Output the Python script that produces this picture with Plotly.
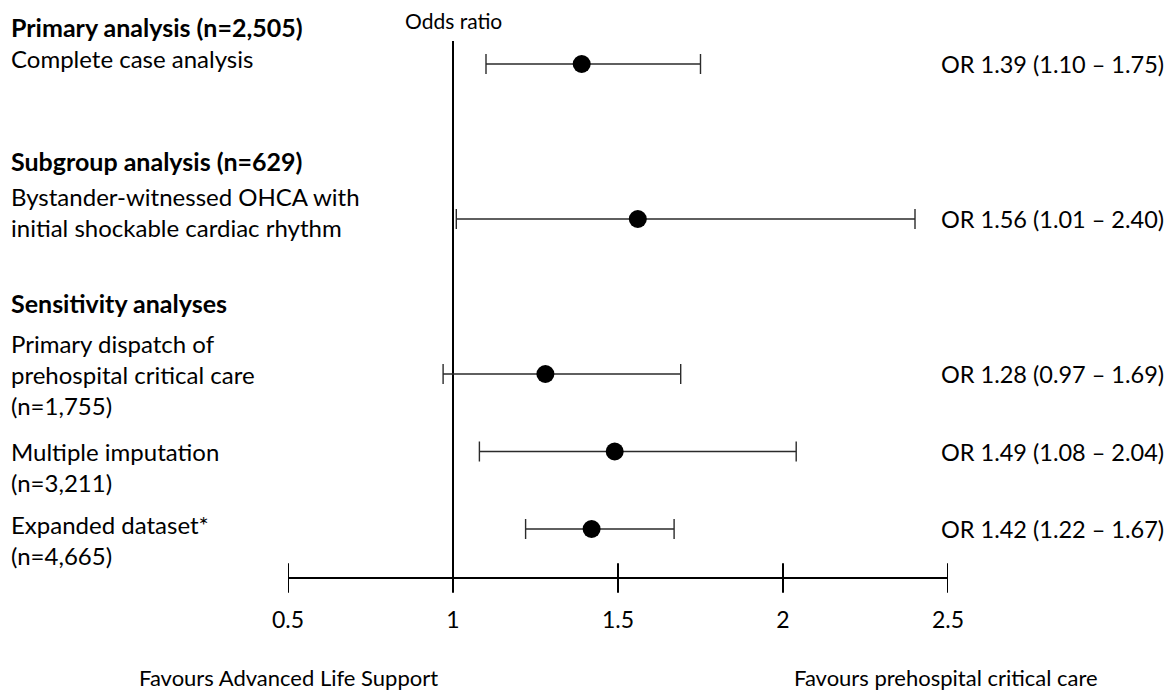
import plotly.graph_objects as go

# ---- data ----
row_labels = [
    "Complete case analysis",
    "Bystander-witnessed OHCA with<br>initial shockable cardiac rhythm",
    "Primary dispatch of<br>prehospital critical care<br>(n=1,755)",
    "Multiple imputation<br>(n=3,211)",
    "Expanded dataset*<br>(n=4,665)",
]
odds_ratio = [1.39, 1.56, 1.28, 1.49, 1.42]
ci_low = [1.10, 1.01, 0.97, 1.08, 1.22]
ci_high = [1.75, 2.40, 1.69, 2.04, 1.67]
or_text = [
    "OR 1.39 (1.10 – 1.75)",
    "OR 1.56 (1.01 – 2.40)",
    "OR 1.28 (0.97 – 1.69)",
    "OR 1.49 (1.08 – 2.04)",
    "OR 1.42 (1.22 – 1.67)",
]
headers = ["Primary analysis (n=2,505)", "Subgroup analysis (n=629)", "Sensitivity analyses"]
tick_vals = [0.5, 1, 1.5, 2, 2.5]
tick_text = ["0.5", "1", "1.5", "2", "2.5"]

# ---- layout (row units on the y axis) ----
row_pos = [0, 2, 4, 5, 6]
label_pos = [-0.077, 1.916, 4.0, 5.194, 6.142]
header_pos = [-0.477, 1.252, 3.084]
axis_level = 6.632

FONT = "Lato"
W, H = 1168, 687  # page adds an 8px body margin
fig = go.Figure()

fig.add_trace(go.Scatter(
    x=odds_ratio, y=row_pos, mode="markers",
    marker=dict(size=18, color="black"),
    error_x=dict(type="data", symmetric=False,
                 array=[h - o for h, o in zip(ci_high, odds_ratio)],
                 arrayminus=[o - l for o, l in zip(odds_ratio, ci_low)],
                 color="#2b2b2b", thickness=1.4, width=10),
    showlegend=False, hoverinfo="x",
))

# x axis line with crossing ticks
fig.add_trace(go.Scatter(
    x=tick_vals, y=[axis_level] * len(tick_vals), mode="lines+markers",
    line=dict(color="black", width=2),
    marker=dict(symbol="line-ns", size=21, line=dict(color="black", width=2)),
    showlegend=False, hoverinfo="skip",
))

# reference line at OR = 1
fig.add_shape(type="line", xref="x", yref="y", x0=1, x1=1, y0=-0.297, y1=6.787,
              line=dict(color="black", width=2), layer="below")

ann = []
for t, y in zip(row_labels, label_pos):
    ann.append(dict(text=t, x=-0.423, xref="paper", y=y, yref="y", xanchor="left",
                    yanchor="middle", align="left", showarrow=False,
                    font=dict(family=FONT, size=24, color="black")))
for t, y in zip(headers, header_pos):
    ann.append(dict(text="<b>" + t + "</b>", x=-0.423, xref="paper", y=y, yref="y",
                    xanchor="left", yanchor="middle", align="left", showarrow=False,
                    font=dict(family=FONT, size=25, color="black")))
for t, y in zip(or_text, row_pos):
    ann.append(dict(text=t, x=0.986, xref="paper", y=y, yref="y", xanchor="left",
                    yanchor="middle", showarrow=False,
                    font=dict(family=FONT, size=23.5, color="black")))
ann.append(dict(text="Odds ratio", x=1, xref="x", y=-0.555, yref="y", xanchor="center",
                yanchor="middle", showarrow=False, font=dict(family=FONT, size=21, color="black")))
ann.append(dict(text="Favours Advanced Life Support", x=-0.2288, xref="paper", y=7.92, yref="y",
                xanchor="left", yanchor="middle", showarrow=False,
                font=dict(family=FONT, size=22, color="black")))
ann.append(dict(text="Favours prehospital critical care", x=0.7636, xref="paper", y=7.92, yref="y",
                xanchor="left", yanchor="middle", showarrow=False,
                font=dict(family=FONT, size=22, color="black")))

fig.update_layout(
    width=W, height=H,
    margin=dict(l=280, r=W - 940, t=0, b=0),
    paper_bgcolor="white", plot_bgcolor="white",
    annotations=ann,
    xaxis=dict(range=[0.5, 2.5], tickvals=tick_vals, ticktext=tick_text, showgrid=False,
               zeroline=False, showline=False, ticks="", anchor="free", position=1 - 596 / H,
               tickfont=dict(family=FONT, size=23, color="black")),
    yaxis=dict(range=[(695 - 64) / 77.5, (8 - 64) / 77.5], visible=False, showgrid=False,
               zeroline=False),
)

fig.write_html("out.html")
